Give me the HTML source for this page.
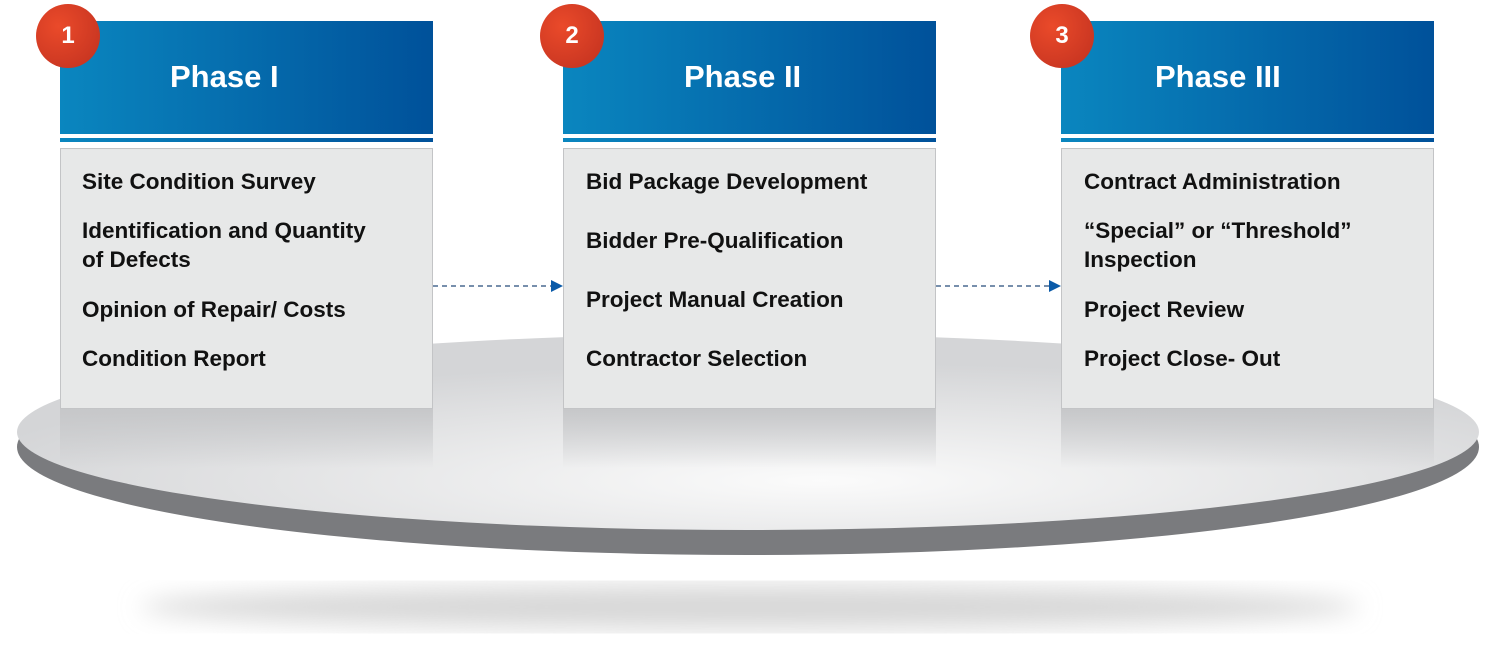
<!DOCTYPE html>
<html><head><meta charset="utf-8"><style>
body{margin:0;width:1500px;height:650px;background:#fff;position:relative;overflow:hidden;font-family:"Liberation Sans",Arial,sans-serif}
.hdr{position:absolute;top:21px;height:113px;width:373px;background:linear-gradient(90deg,#0a86bf,#00519a)}
.ttl{position:absolute;top:21px;line-height:112px;color:#fff;font-weight:bold;font-size:31px;white-space:nowrap}
.ln{position:absolute;top:138px;height:4px;width:373px;background:linear-gradient(90deg,#0a86bf,#00519a)}
.body{position:absolute;top:148px;height:259px;width:371px;background:#e7e8e8;border:1px solid #c3c4c6}
.refl{position:absolute;top:408px;height:60px;width:373px;background:linear-gradient(#c6c7c9,rgba(230,231,232,0))}
.t{position:absolute;font-weight:bold;font-size:22.5px;color:#111;line-height:29px;white-space:nowrap}
.c{position:absolute;width:64px;height:64px;border-radius:50%;background:radial-gradient(circle at 35% 35%,#ea4a2a,#c0301f);color:#fff;font-weight:bold;font-size:24px;text-align:center;line-height:64px}
</style></head><body>
<svg width="1500" height="650" style="position:absolute;left:0;top:0">
<defs>
<radialGradient id="g" cx="0.55" cy="0.75" r="0.6"><stop offset="0" stop-color="#fbfbfb"/><stop offset="1" stop-color="#d4d5d7"/></radialGradient>
<filter id="b"><feGaussianBlur stdDeviation="12"/></filter>
</defs>
<ellipse cx="750" cy="607" rx="610" ry="22" fill="#d8d8d8" filter="url(#b)"/>
<ellipse cx="748" cy="447" rx="731" ry="108" fill="#7a7b7e"/>
<ellipse cx="748" cy="432" rx="731" ry="98" fill="url(#g)"/>
<line x1="433" y1="286" x2="552" y2="286" stroke="#4a6a90" stroke-width="1.5" stroke-dasharray="5,4"/>
<polygon points="551,280 563,286 551,292" fill="#0a5aa8"/>
<line x1="936" y1="286" x2="1050" y2="286" stroke="#4a6a90" stroke-width="1.5" stroke-dasharray="5,4"/>
<polygon points="1049,280 1061,286 1049,292" fill="#0a5aa8"/>
</svg>

<div class="refl" style="left:60px"></div>
<div class="refl" style="left:563px"></div>
<div class="refl" style="left:1061px"></div>

<div class="hdr" style="left:60px"></div><div class="ln" style="left:60px"></div>
<div class="body" style="left:60px"></div>
<div class="hdr" style="left:563px"></div><div class="ln" style="left:563px"></div>
<div class="body" style="left:563px"></div>
<div class="hdr" style="left:1061px"></div><div class="ln" style="left:1061px"></div>
<div class="body" style="left:1061px"></div>

<div class="ttl" style="left:170px">Phase I</div>
<div class="ttl" style="left:684px">Phase II</div>
<div class="ttl" style="left:1155px">Phase III</div>

<div class="c" style="left:36px;top:4px">1</div>
<div class="c" style="left:540px;top:4px">2</div>
<div class="c" style="left:1030px;top:4px">3</div>

<div class="t" style="left:82px;top:167px">Site Condition Survey</div>
<div class="t" style="left:82px;top:216px">Identification and Quantity<br>of Defects</div>
<div class="t" style="left:82px;top:295px">Opinion of Repair/ Costs</div>
<div class="t" style="left:82px;top:344px">Condition Report</div>

<div class="t" style="left:586px;top:167px">Bid Package Development</div>
<div class="t" style="left:586px;top:226px">Bidder Pre-Qualification</div>
<div class="t" style="left:586px;top:285px">Project Manual Creation</div>
<div class="t" style="left:586px;top:344px">Contractor Selection</div>

<div class="t" style="left:1084px;top:167px">Contract Administration</div>
<div class="t" style="left:1084px;top:216px">“Special” or “Threshold”<br>Inspection</div>
<div class="t" style="left:1084px;top:295px">Project Review</div>
<div class="t" style="left:1084px;top:344px">Project Close- Out</div>
</body></html>
